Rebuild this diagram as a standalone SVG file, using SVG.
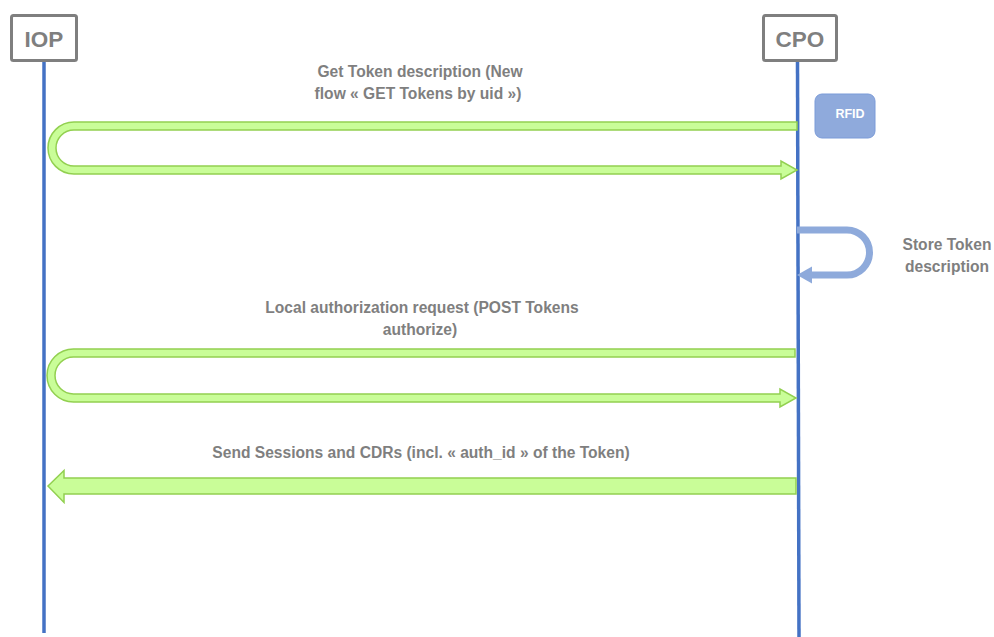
<svg xmlns="http://www.w3.org/2000/svg" width="994" height="637" viewBox="0 0 994 637">
<style>
.actor{fill:#ffffff;stroke:#7f7f7f;stroke-width:3}
.atext{font-family:"Liberation Sans",Arial,sans-serif;font-weight:bold;font-size:22.5px;fill:#7f7f7f;text-anchor:middle}
.life{stroke:#4472c4;stroke-width:3.5;fill:none}
.msg{fill:#c9fd98;stroke:#92d050;stroke-width:1.5;stroke-linejoin:miter}
.lbl{font-family:"Liberation Sans",Arial,sans-serif;font-weight:bold;font-size:15.6px;fill:#7f7f7f;text-anchor:middle}
.self{fill:none;stroke:#8eaadb;stroke-width:7}
</style>
<rect width="994" height="637" fill="#ffffff"/>
<g id="IOP">
<line class="life" x1="44" y1="61" x2="44" y2="633"/>
<rect class="actor" x="11.5" y="15.5" width="65" height="45" rx="2"/>
<text class="atext" x="44" y="47">IOP</text>
</g>
<g id="CPO">
<line class="life" x1="797.5" y1="61" x2="799" y2="637"/>
<rect class="actor" x="763.5" y="15.5" width="73" height="45" rx="2"/>
<text class="atext" x="800" y="47">CPO</text>
</g>
<g id="RFID">
<rect x="815" y="94" width="60" height="44" rx="7" fill="#8faadc" stroke="#7b9bd8" stroke-width="1"/>
<text x="850" y="118" font-family="'Liberation Sans',Arial,sans-serif" font-weight="bold" font-size="12.5" fill="#ffffff" text-anchor="middle">RFID</text>
</g>
<g id="connectors">
<path class="msg" d="M797,122 H74 A26,26 0 0 0 74,174 H781 V179 L797,170 L781,161 V166 H74 A18,18 0 0 1 74,130 H797 Z"/>
<path class="self" d="M797,230 H847 A22.5,22.5 0 0 1 847,275 H811"/>
<polygon points="797,275 812,266.5 812,283.5" fill="#8eaadb"/>
<path class="msg" d="M795,349 H73.5 A26.5,26.5 0 0 0 73.5,402 H780 V407 L796,398 L780,389 V394 H73.5 A18.5,18.5 0 0 1 73.5,357 H795 Z"/>
<path class="msg" d="M796,478 H64 V470.5 L48,486 L64,502.5 V494 H796 Z"/>
</g>
<g id="labels">
<text class="lbl" x="420" y="77">Get Token description (New</text>
<text class="lbl" x="418" y="99">flow « GET Tokens by uid »)</text>
<text class="lbl" x="947" y="250">Store Token</text>
<text class="lbl" x="947" y="272">description</text>
<text class="lbl" x="422" y="313">Local authorization request (POST Tokens</text>
<text class="lbl" x="420" y="335">authorize)</text>
<text class="lbl" x="421" y="458">Send Sessions and CDRs (incl. « auth_id » of the Token)</text>
</g>
</svg>
